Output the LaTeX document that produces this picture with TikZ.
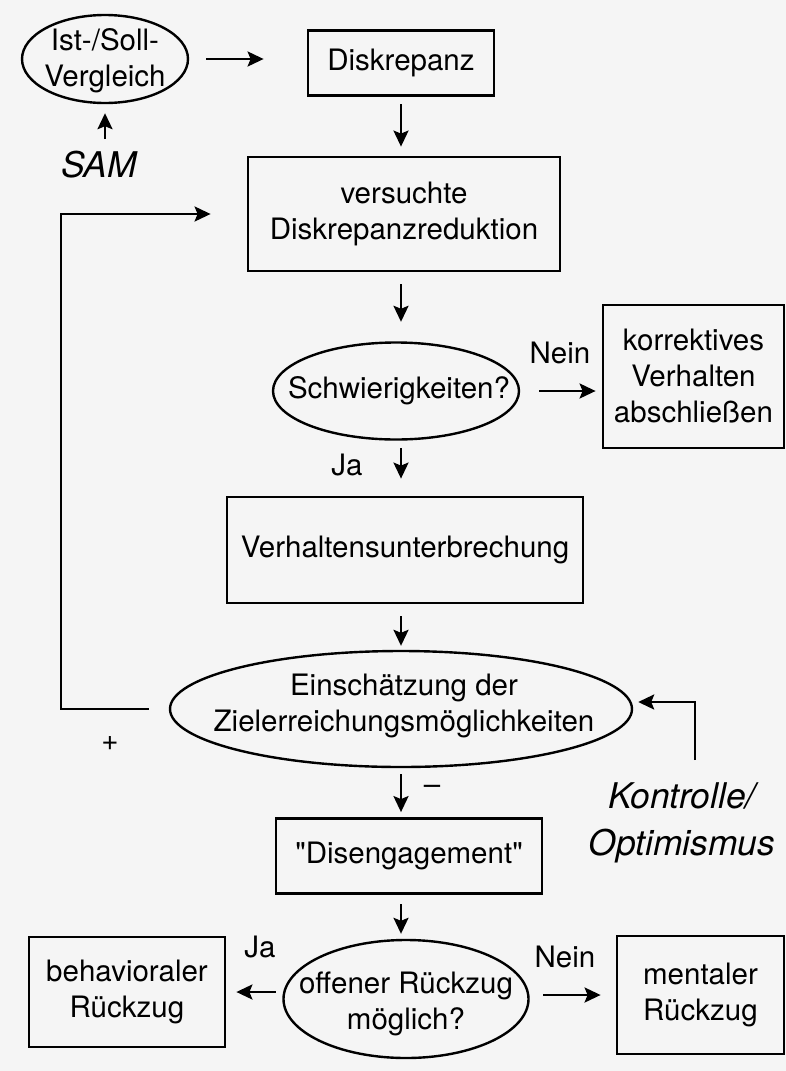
\documentclass[tikz,border=0pt]{standalone}
\usepackage{fontspec}
\setmainfont{TeX Gyre Heros}
\usetikzlibrary{shapes.geometric,arrows.meta}

\begin{document}
\begin{tikzpicture}[x=0.5pt,y=-0.5pt,
  font=\fontsize{14.75}{18}\selectfont,
  box/.style={draw,line width=1.4pt,align=center,inner sep=0pt},
  oval/.style={draw,ellipse,line width=1.2pt,inner sep=0pt},
  arr/.style={line width=1.25pt,-{Stealth[length=8pt,width=7.5pt,inset=1.5pt]}},
  lbl/.style={inner sep=0pt,align=center},
  note/.style={lbl,font=\fontsize{17.7}{23.5}\selectfont\itshape}]
\fill[black!4] (0,0) rectangle (786,1071);
\useasboundingbox (0,0) rectangle (786,1071);
\coordinate (axis) at (401,0);
\coordinate (lp) at (61,712);
\coordinate (kst) at (695,760);

\node[oval,minimum width=83pt,minimum height=44pt] (ist) at (105,59) {};
\node[lbl] (istT) at (105,61) {Ist-/Soll-\\Vergleich};
\node[box,minimum width=93pt,minimum height=32.5pt] (disk) at (401,63) {Diskrepanz};
\node[box,minimum width=156pt,minimum height=57pt] (vers) at (404,214) {versuchte\\Diskrepanzreduktion};
\node[oval,minimum width=123pt,minimum height=48.5pt] (schw) at (396,391) {};
\node[lbl] (schwT) at (399,391) {Schwierigkeiten?};
\node[box,minimum width=90.5pt,minimum height=71.5pt] (korr) at (693.5,376.5) {korrektives\\Verhalten\\abschließen};
\node[box,minimum width=178pt,minimum height=53pt] (verh) at (405,550) {Verhaltensunterbrechung};
\node[oval,minimum width=231pt,minimum height=58pt] (ein) at (401,709) {};
\node[lbl] (einT) at (404,706) {Einschätzung der\\Zielerreichungsmöglichkeiten};
\node[box,minimum width=133pt,minimum height=37.5pt] (dis) at (409,856) {\textquotedbl Disengagement\textquotedbl};
\node[oval,minimum width=122.5pt,minimum height=59pt] (off) at (406,999) {};
\node[lbl] (offT) at (406,1004) {offener Rückzug\\möglich?};
\node[box,minimum width=98pt,minimum height=55pt] (beh) at (127,992) {behavioraler\\Rückzug};
\node[box,minimum width=83.5pt,minimum height=59pt] (men) at (700.5,995) {mentaler\\Rückzug};

\node[note] (sam) at (99,165) {SAM};
\node[note] (kon) at (682,823) {Kontrolle/\\Optimismus};
\node[lbl] (nein1) at (560,353) {Nein};
\node[lbl] (ja1) at (347,465) {Ja};
\node[lbl] (plus) at (110,743) {+};
\node[lbl] (minus) at (432,790) {--};
\node[lbl] (ja2) at (260,947) {Ja};
\node[lbl] (nein2) at (565,957) {Nein};

\draw[arr] ([xshift=8.5pt]ist.east) -- ([xshift=-21.5pt]ist.east -| disk.west);
\draw[arr] ([yshift=6pt]sam.north -| ist.south) -- ([yshift=-4.5pt]ist.south);
\draw[arr] ([yshift=-3.75pt]axis |- disk.south) -- ([yshift=4.5pt]axis |- vers.north);
\draw[arr] ([yshift=-6pt]axis |- vers.south) -- ([yshift=9.75pt]axis |- schw.north);
\draw[arr] ([xshift=9.5pt]schw.east) -- ([xshift=-3pt]schw.east -| korr.west);
\draw[arr] ([yshift=-3.75pt]axis |- schw.south) -- ([yshift=8.5pt]axis |- verh.north);
\draw[arr] ([yshift=-6pt]axis |- verh.south) -- ([yshift=2pt]axis |- ein.north);
\draw[arr] ([xshift=-10pt]ein.west) -- (ein.west -| lp) -- (vers.west -| lp) -- ([xshift=-18pt]vers.west);
\draw[arr] (kst) |- ([xshift=2.5pt,yshift=3.5pt]ein.east);
\draw[arr] ([yshift=-3pt]axis |- ein.south) -- ([yshift=2.5pt]axis |- dis.north);
\draw[arr] ([yshift=-4.75pt]axis |- dis.south) -- ([yshift=2.5pt]axis |- off.north);
\draw[arr] ([xshift=-3.25pt]off.west |- beh.east) -- ([xshift=5pt]beh.east);
\draw[arr] ([xshift=6.75pt]off.east |- men.west) -- ([xshift=-7.5pt]men.west);
\end{tikzpicture}
\end{document}
